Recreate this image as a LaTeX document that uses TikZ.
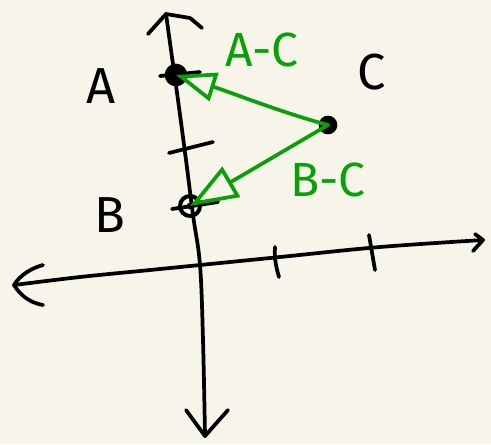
\documentclass[tikz,border=0pt]{standalone}
\usepackage{fontspec}
\setmainfont{Fira Sans}
\usetikzlibrary{arrows.meta}
\definecolor{bg}{RGB}{247,245,234}
\definecolor{gr}{RGB}{10,160,10}
\begin{document}
\begin{tikzpicture}[x=0.75pt,y=-0.75pt,
  axis/.style={black,line width=2.8pt,line cap=round,line join=round},
  blk/.style={black,font=\fontsize{38}{40}\selectfont\mdseries},
  grn/.style={gr,font=\fontsize{36}{38}\selectfont\mdseries},
  vec/.style={gr,line width=2.8pt,line cap=round,line join=round,
    -{Triangle[open,length=30pt,width=22pt,line width=2.8pt]}},
  dot/.style={circle,fill=black,inner sep=0pt,minimum size=17pt},
  ring/.style={circle,draw=black,line width=3pt,inner sep=0pt,minimum size=15pt}]
\fill[bg] (0,0) rectangle (491,444);
\useasboundingbox (0,0) rectangle (491,444);
% axes
\coordinate (top) at (166,14);
\coordinate (bot) at (205,436);
\coordinate (lft) at (14,285);
\coordinate (rgt) at (483,240);
\draw[axis] plot[smooth,tension=0.6] coordinates {(top) (171,50) (178,100) (186,160) (193,215) (200,265) (203,340) (bot)};
\draw[axis] plot[smooth,tension=0.6] coordinates {(lft) (80,277) (150,270) (200,265) (280,257) (380,247) (rgt)};
% arrowheads (hand-drawn)
\draw[axis] (148,34) -- (top) -- (190,18) -- (202,28);
\draw[axis] (186,410) -- (bot) -- (228,410);
\draw[axis] (43,265) .. controls (25,270) and (17,280) .. (lft) .. controls (20,295) and (30,303) .. (43,305);
\draw[axis] (475,234) -- (rgt) -- (473,251);
% ticks
\draw[axis] (275,247) .. controls (274,260) and (277,270) .. (279,277);
\draw[axis] (369,235) -- (375,270);
\draw[axis] (169,153) -- (213,142);
\draw[axis] (160,76) -- (200,72);
\draw[axis] (172,209) -- (218,202);
% points
\node[dot] (A) at (176,75) {};
\node[ring] (B) at (190,206) {};
\fill (B.center) circle (2.5pt);
\node[dot,minimum size=14pt] (C) at (328,125) {};
% labels
\node[blk] (la) at (101,86) {A};
\node[blk] (lb) at (110,215) {B};
\node[blk] (lc) at (372,72) {C};
\node[grn] (lac) at (262,50) {A-C};
\node[grn] (lbc) at (328,180) {B-C};
% vectors
\draw[vec] (C.center) .. controls (280,112) and (230,92) .. (A.center);
\draw[vec,-{Triangle[open,length=36pt,width=26pt,line width=2.8pt]}] (C.center) -- (B.center);
\end{tikzpicture}
\end{document}
